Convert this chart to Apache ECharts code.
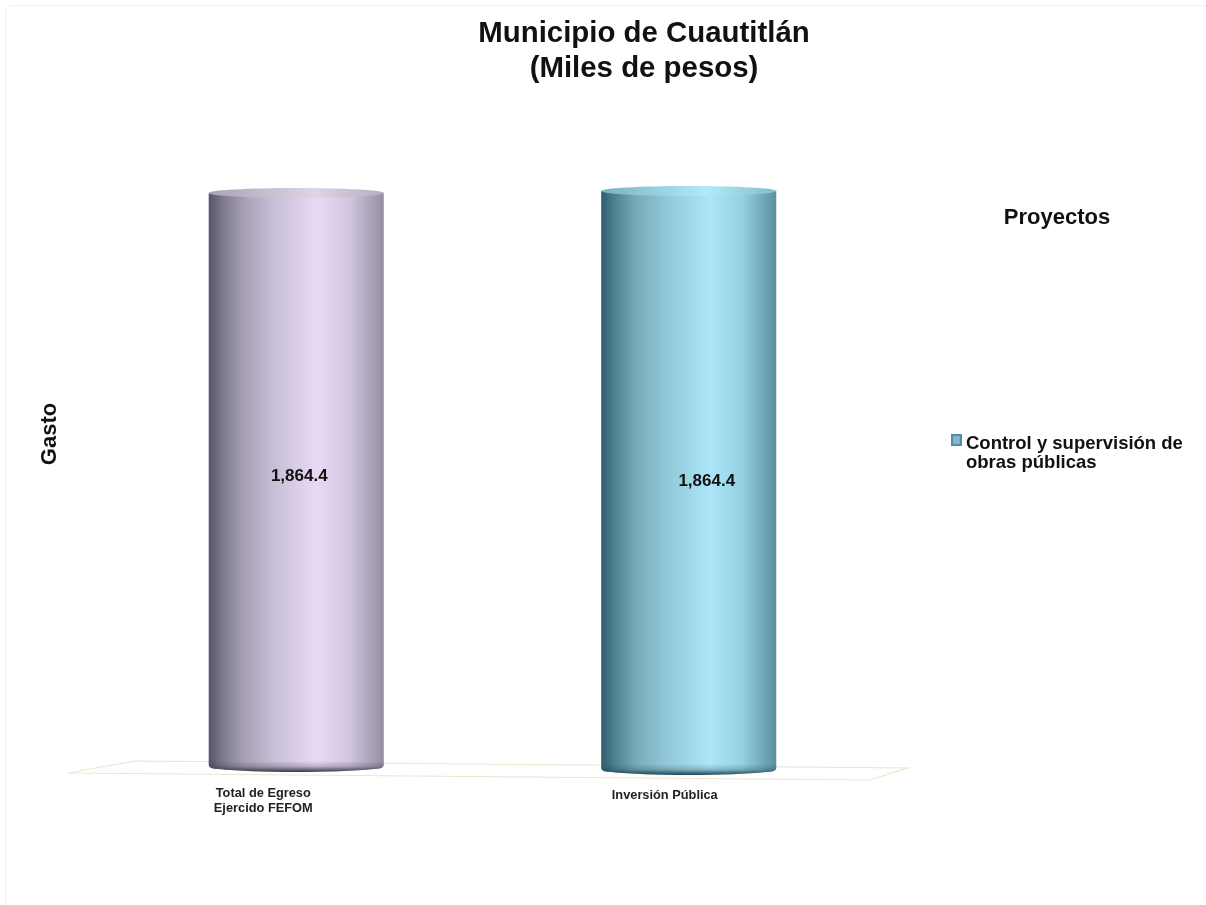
<!DOCTYPE html>
<html><head><meta charset="utf-8">
<style>html,body{margin:0;padding:0;background:#fff}#c{width:1206px;height:905px}</style>
<script src="https://cdn.jsdelivr.net/npm/echarts@6/dist/echarts.min.js"></script>
</head><body><div id="c"></div>
<script>
const categories = ['Total de Egreso\nEjercido FEFOM', 'Inversión Pública'];
const values = [1864.4, 1864.4];
const seriesName = 'Control y supervisión de\nobras públicas';
const stopOffsets = [0, 0.08, 0.2, 0.36, 0.62, 0.8, 1];
const barStops = [
  ['#57526a', '#7d788c', '#a6a0b3', '#c6bdd6', '#e8daf5', '#d2c6e0', '#958ea3'],
  ['#2e5d6c', '#4e8292', '#79aaba', '#90c6d6', '#ace6f8', '#95d2e3', '#5a90a0']
];
const capStops = [
  ['#a8a2b2', '#ded5e8', '#b5aec0'],
  ['#79b2c2', '#b2eaf7', '#86bccb']
];
const bottomColors = ['rgba(50,45,62,', 'rgba(22,60,72,'];
// perspective nudges (px) per category: top, bottom, label dx, dy
const nudge = [
  {top: 2, bottom: 0, dx: 3, dy: -4},
  {top: 0, bottom: 3, dx: 18, dy: 1}
];
const fmt = v => v.toLocaleString('en-US', {minimumFractionDigits: 1, maximumFractionDigits: 1});
const FONT = '"Liberation Sans", Arial, sans-serif';

function lowerPath(l, r, cx, yStart, yB) {
  return `M${l} ${yStart}L${r} ${yStart}L${r} ${yB - 7}Q${r} ${yB - 3} ${r - 10} ${yB - 3}` +
    `Q${r - 40} ${yB} ${cx} ${yB}Q${l + 40} ${yB} ${l + 10} ${yB - 3}Q${l} ${yB - 3} ${l} ${yB - 7}Z`;
}

function renderCyl(params, api) {
  const i = api.value(0), n = nudge[i];
  const top = api.coord([i, api.value(1)]);
  const base = api.coord([i, 0]);
  const w = api.size([1, 0])[0] * 0.446;
  const cx = top[0], l = cx - w / 2, r = cx + w / 2;
  const yT = top[1] + n.top, yB = base[1] + n.bottom;
  const grad = new echarts.graphic.LinearGradient(0, 0, 1, 0,
    stopOffsets.map((o, k) => ({offset: o, color: barStops[i][k]})));
  const capGrad = new echarts.graphic.LinearGradient(0, 0, 1, 0, [
    {offset: 0, color: capStops[i][0]}, {offset: 0.6, color: capStops[i][1]}, {offset: 1, color: capStops[i][2]}]);
  const shade = new echarts.graphic.LinearGradient(0, 0, 0, 1, [
    {offset: 0, color: bottomColors[i] + '0)'}, {offset: 0.5, color: bottomColors[i] + '0.25)'}, {offset: 1, color: bottomColors[i] + '0.95)'}]);
  return {type: 'group', children: [
    {type: 'path', shape: {pathData: lowerPath(l, r, cx, yT + 5, yB), x: l, y: yT + 5, width: w, height: yB - yT - 5, layout: 'cover'},
      style: {fill: grad}},
    {type: 'path', shape: {pathData: lowerPath(l, r, cx, yB - 11, yB), x: l, y: yB - 11, width: w, height: 11, layout: 'cover'},
      style: {fill: shade}},
    {type: 'ellipse', shape: {cx, cy: yT + 5, rx: w / 2, ry: 5}, style: {fill: capGrad}},
    {type: 'text', x: cx + n.dx, y: (yT + yB) / 2 + n.dy,
      style: {text: fmt(api.value(1)), fill: '#111', font: 'bold 17px ' + FONT, align: 'center', verticalAlign: 'middle'}}
  ]};
}

function renderFloor(params) {
  const c = params.coordSys;
  const x0 = c.x, x1 = c.x + c.width, yb = c.y + c.height;
  return {type: 'polygon', silent: true, shape: {points: [
    [x0 - 32, yb + 1], [x0 + 35, yb - 11], [x1 + 22, yb - 4], [x1 - 15, yb + 8]]},
    style: {fill: '#fff', stroke: '#e8e6d0', lineWidth: 1.2}};
}

const chart = echarts.init(document.getElementById('c'));
chart.setOption({
  animation: false,
  backgroundColor: '#fff',
  graphic: [{type: 'rect', silent: true, z: -10, shape: {x: 5.5, y: 5.5, width: 1300, height: 1000, r: 6},
    style: {fill: 'none', stroke: '#efefef', lineWidth: 1}}],
  title: [
    {text: 'Municipio de Cuautitlán\n(Miles de pesos)', left: 639, top: 11, textAlign: 'center',
     textStyle: {fontFamily: FONT, fontWeight: 'bold', fontSize: 29.4, lineHeight: 35, color: '#111'}},
    {text: 'Proyectos', left: 1052, top: 202, textAlign: 'center',
     textStyle: {fontFamily: FONT, fontWeight: 'bold', fontSize: 22, color: '#111'}}
  ],
  legend: {
    left: 951, top: 434, padding: 0, orient: 'vertical', itemWidth: 9, itemHeight: 36, itemGap: 4,
    icon: 'path://M0 0H9V10H0ZM0 36L0 36Z', selectedMode: false,
    textStyle: {fontFamily: FONT, fontWeight: 'bold', fontSize: 18.5, lineHeight: 19, color: '#111'},
    data: [seriesName]
  },
  grid: {left: 100, right: 321, top: 186, bottom: 133},
  xAxis: {
    type: 'category',
    data: [
      {value: categories[0], textStyle: {padding: [0, 66, 0, 0]}},
      {value: categories[1], textStyle: {padding: [2, 48, 0, 0]}}
    ],
    axisLine: {show: false}, axisTick: {show: false},
    axisLabel: {margin: 14, interval: 0, fontFamily: FONT, fontWeight: 'bold', fontSize: 12.8, lineHeight: 15, color: '#222'}
  },
  yAxis: {
    type: 'value', min: 0, max: 1864.4,
    name: 'Gasto', nameLocation: 'middle', nameGap: 39, nameRotate: 90,
    nameTextStyle: {fontFamily: FONT, fontWeight: 'bold', fontSize: 22, color: '#111', padding: [0, 0, 0, 90]},
    axisLine: {show: false}, axisTick: {show: false}, axisLabel: {show: false}, splitLine: {show: false}
  },
  series: [
    {type: 'custom', name: 'floor', silent: true, z: 1, renderItem: renderFloor, data: [[0]], encode: {x: 0}, legendHoverLink: false, tooltip: {show: false}},
    {type: 'custom', name: seriesName, z: 2, renderItem: renderCyl, clip: false,
     itemStyle: {color: '#7fb6cc', borderColor: '#4c8ea6', borderWidth: 1},
     data: values.map((v, i) => [i, v]), encode: {x: 0, y: 1}}
  ]
});
</script></body></html>
